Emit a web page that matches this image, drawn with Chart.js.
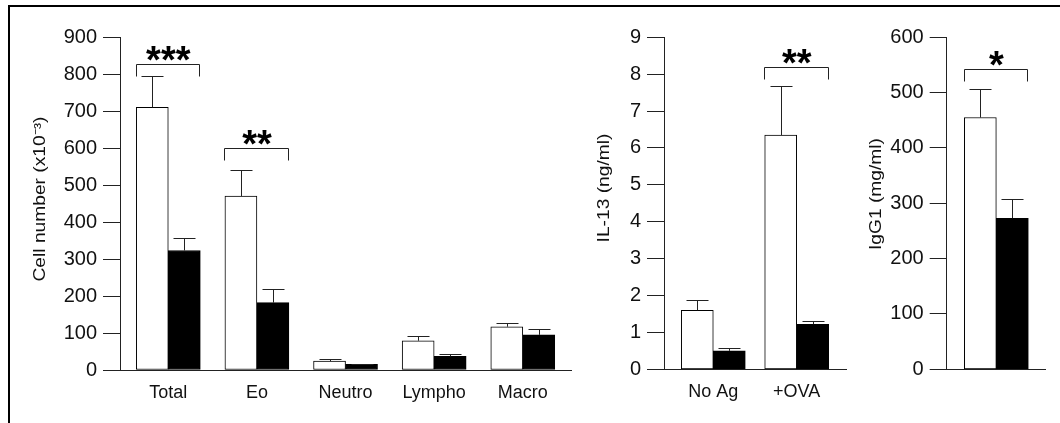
<!DOCTYPE html>
<html><head><meta charset="utf-8">
<script src="https://cdn.jsdelivr.net/npm/chart.js@4.4.1/dist/chart.umd.min.js"></script>
<style>
html,body{margin:0;padding:0;background:#fff;width:1060px;height:423px;overflow:hidden;position:relative;}
#frame{position:absolute;left:8px;top:5px;width:1060px;height:430px;border-top:2px solid #000;border-left:2px solid #000;}
canvas{position:absolute;}
</style></head><body>
<div id="frame"></div>
<canvas id="c1" width="572" height="410" style="left:10px;top:10px"></canvas>
<canvas id="c2" width="265" height="410" style="left:585px;top:10px"></canvas>
<canvas id="c3" width="210" height="410" style="left:850px;top:10px"></canvas>
<script>
// ---------- data ----------
const cellCategories = ["Total", "Eo", "Neutro", "Lympho", "Macro"];
const cellOpen = [710, 470, 24, 79, 117];
const cellOpenErr = [85, 70, 6, 12, 11];
const cellFilled = [323, 182, 15, 37, 95];
const cellFilledErr = [34, 36, 1, 5, 17];
const cellTicks = [0, 100, 200, 300, 400, 500, 600, 700, 800, 900];
const cellSigCats = [0, 1];
const cellSigLevels = [826, 601];
const cellSigLabels = ["***", "**"];

const il13Categories = ["No Ag", "+OVA"];
const il13Open = [1.6, 6.35];
const il13OpenErr = [0.28, 1.34];
const il13Filled = [0.5, 1.22];
const il13FilledErr = [0.07, 0.09];
const il13Ticks = [0, 1, 2, 3, 4, 5, 6, 7, 8, 9];
const il13SigCats = [1];
const il13SigLevels = [8.2];
const il13SigLabels = ["**"];

const iggCategories = [""];
const iggOpen = [455];
const iggOpenErr = [52];
const iggFilled = [273];
const iggFilledErr = [34];
const iggTicks = [0, 100, 200, 300, 400, 500, 600];
const iggSigCats = [0];
const iggSigLevels = [542];
const iggSigLabels = ["*"];

// ---------- styling ----------
const FONT = "'Liberation Sans', Arial, Helvetica, sans-serif";
const TICK_FONT = { family: FONT, size: 20, lineHeight: 1.2 };
const CAT_FONT = { family: FONT, size: 18, lineHeight: 1.2 };
const INK = '#111';
const LINE = '#222';

const errorBarsPlugin = {
  id: 'errorBars',
  afterDatasetsDraw(chart, args, opts) {
    const ctx = chart.ctx;
    const ys = chart.scales.y;
    ctx.save();
    ctx.strokeStyle = LINE;
    ctx.lineWidth = 1;
    (opts.errors || []).forEach((errs, d) => {
      const meta = chart.getDatasetMeta(d);
      meta.data.forEach((el, i) => {
        const v = chart.data.datasets[d].data[i].y;
        const e = errs[i];
        if (!e) return;
        const x = Math.round(el.x) + 0.5;
        const y0 = el.y;
        const y1 = Math.round(ys.getPixelForValue(v + e)) + 0.5;
        ctx.beginPath();
        ctx.moveTo(x, y0);
        ctx.lineTo(x, y1);
        ctx.moveTo(x - 11, y1);
        ctx.lineTo(x + 11, y1);
        ctx.stroke();
      });
    });
    ctx.restore();
  }
};

const sigPlugin = {
  id: 'sigMarks',
  afterDatasetsDraw(chart, args, opts) {
    const ctx = chart.ctx;
    const xs = chart.scales.x, ys = chart.scales.y;
    ctx.save();
    ctx.strokeStyle = LINE;
    ctx.lineWidth = 1;
    (opts.cats || []).forEach((c, k) => {
      const cx = xs.getPixelForValue(c);
      const y = Math.round(ys.getPixelForValue(opts.levels[k])) + 0.5;
      const xl = Math.round(cx - 32.5) + 0.5, xr = Math.round(cx + 31) + 0.5;
      ctx.beginPath();
      ctx.moveTo(xl, y + 12);
      ctx.lineTo(xl, y);
      ctx.lineTo(xr, y);
      ctx.lineTo(xr, y + 12);
      ctx.stroke();
      ctx.font = 'bold 38px ' + FONT;
      ctx.fillStyle = '#000';
      ctx.textAlign = 'center';
      ctx.textBaseline = 'alphabetic';
      const m = ctx.measureText(opts.labels[k]);
      const centerY = y - 11;
      const base = centerY + (m.actualBoundingBoxAscent - m.actualBoundingBoxDescent) / 2;
      ctx.fillText(opts.labels[k], cx, base);
    });
    ctx.restore();
  }
};

// y-axis title, drawn rotated and stretched along its length like the source figure
const yTitlePlugin = {
  id: 'yTitle',
  afterDraw(chart, args, opts) {
    if (!opts.text) return;
    const ctx = chart.ctx;
    ctx.save();
    ctx.translate(opts.x, opts.y);
    ctx.rotate(-Math.PI / 2);
    ctx.scale(1.2, 1);
    ctx.font = '16px ' + FONT;
    ctx.fillStyle = INK;
    ctx.textAlign = 'center';
    ctx.textBaseline = 'middle';
    ctx.fillText(opts.text, 0, 0);
    ctx.restore();
  }
};

function buildPanel(canvasId, cats, openVals, openErr, filledVals, filledErr, yTicks, title, geom, sig) {
  const toPts = vals => vals.map((v, i) => ({ x: i, y: v }));
  return new Chart(document.getElementById(canvasId), {
    type: 'bar',
    data: {
      datasets: [
        { label: 'open', data: toPts(openVals), backgroundColor: '#fff', borderColor: '#000', borderWidth: 1, borderSkipped: false, barThickness: 32 },
        { label: 'filled', data: toPts(filledVals), backgroundColor: '#000', borderColor: '#000', borderWidth: 1, borderSkipped: false, barThickness: 32 }
      ]
    },
    options: {
      responsive: false,
      animation: false,
      events: [],
      layout: { padding: { top: geom.padTop, right: geom.padRight, left: 0, bottom: 0 } },
      plugins: {
        legend: { display: false },
        tooltip: { enabled: false },
        errorBars: { errors: [openErr, filledErr] },
        sigMarks: sig,
        yTitle: { text: title, x: geom.titleX, y: geom.titleY }
      },
      scales: {
        x: {
          type: 'linear',
          offset: false,
          min: geom.xMin,
          max: geom.xMax,
          grid: { display: false, drawTicks: false },
          border: { display: true, color: LINE, width: 1 },
          afterBuildTicks: s => { s.ticks = cats.map((_, i) => ({ value: i })); },
          afterFit: s => { s.height = geom.xH; },
          ticks: {
            autoSkip: false, maxRotation: 0, minRotation: 0, padding: 12,
            color: INK, font: CAT_FONT,
            callback: v => cats[v]
          }
        },
        y: {
          type: 'linear',
          min: yTicks[0],
          max: yTicks[yTicks.length - 1],
          afterBuildTicks: s => { s.ticks = yTicks.map(v => ({ value: v })); },
          afterFit: s => { s.width = geom.yW; },
          grid: { drawOnChartArea: false, drawTicks: true, tickLength: 17, color: LINE, lineWidth: 1 },
          border: { display: true, color: LINE, width: 1 },
          ticks: { padding: 6, color: INK, font: TICK_FONT }
        }
      }
    },
    plugins: [errorBarsPlugin, sigPlugin, yTitlePlugin]
  });
}

buildPanel('c1', cellCategories, cellOpen, cellOpenErr, cellFilled, cellFilledErr, cellTicks,
  'Cell number (x10\u207B\u00B3)',
  { padTop: 27, padRight: 10.3, xH: 50, yW: 110, titleX: 31, titleY: 189, xMin: -0.545, xMax: 4.552 },
  { cats: cellSigCats, levels: cellSigLevels, labels: cellSigLabels });

buildPanel('c2', il13Categories, il13Open, il13OpenErr, il13Filled, il13FilledErr, il13Ticks,
  'IL-13 (ng/ml)',
  { padTop: 27.3, padRight: 4, xH: 50.7, yW: 79, titleX: 19.5, titleY: 178, xMin: -0.591, xMax: 1.591 },
  { cats: il13SigCats, levels: il13SigLevels, labels: il13SigLabels });

buildPanel('c3', iggCategories, iggOpen, iggOpenErr, iggFilled, iggFilledErr, iggTicks,
  'IgG1 (mg/ml)',
  { padTop: 27.3, padRight: 15, xH: 50.7, yW: 96.7, titleX: 26.5, titleY: 184, xMin: -0.505, xMax: 0.495 },
  { cats: iggSigCats, levels: iggSigLevels, labels: iggSigLabels });
</script>
</body></html>
